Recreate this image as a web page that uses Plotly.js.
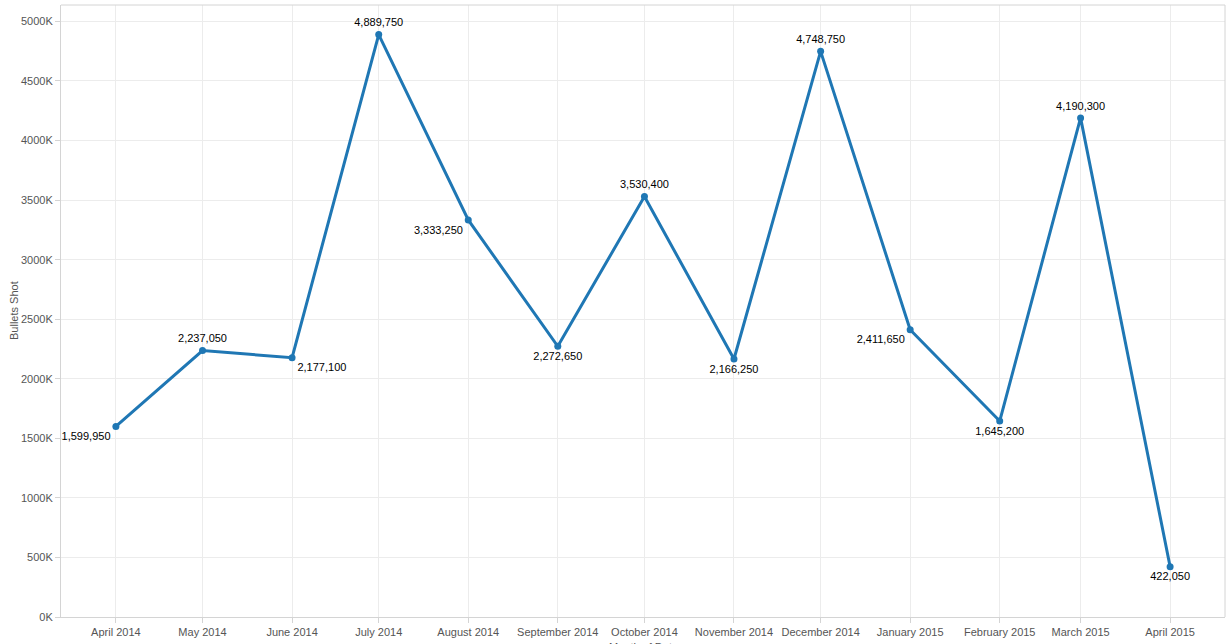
<!DOCTYPE html>
<html>
<head>
<meta charset="utf-8">
<script src="https://cdn.plot.ly/plotly-3.0.1.min.js"></script>
<style>
html,body{margin:0;padding:0;background:#fff;}
#chart{width:1230px;height:644px;}
</style>
</head>
<body>
<div id="chart"></div>
<script>
const months = ['2014-04-01','2014-05-01','2014-06-01','2014-07-01','2014-08-01','2014-09-01','2014-10-01','2014-11-01','2014-12-01','2015-01-01','2015-02-01','2015-03-01','2015-04-01'];
const monthLabels = ['April 2014','May 2014','June 2014','July 2014','August 2014','September 2014','October 2014','November 2014','December 2014','January 2015','February 2015','March 2015','April 2015'];
const bulletsShot = [1599950,2237050,2177100,4889750,3333250,2272650,3530400,2166250,4748750,2411650,1645200,4190300,422050];
const labelPositions = ['bottom left','top center','bottom right','top center','bottom left','bottom center','top center','bottom center','top center','bottom left','bottom center','top center','bottom center'];
const yTickVals = [0,500000,1000000,1500000,2000000,2500000,3000000,3500000,4000000,4500000,5000000];
const yTickText = ['0K','500K','1000K','1500K','2000K','2500K','3000K','3500K','4000K','4500K','5000K'];
const xTitle = 'Month of Date';
const yTitle = 'Bullets Shot';

const trace = {
  x: months,
  y: bulletsShot,
  type: 'scatter',
  mode: 'lines+markers+text',
  line: {color: '#1f77b4', width: 3},
  marker: {color: '#1f77b4', size: 7},
  text: bulletsShot.map(v => v.toLocaleString('en-US')),
  textposition: labelPositions,
  textfont: {family: 'Arial, Liberation Sans, sans-serif', size: 11, color: '#000'},
  cliponaxis: false,
  hoverinfo: 'x+y'
};

const layout = {
  width: 1230,
  height: 644,
  margin: {l: 61, r: 5, t: 5, b: 27},
  paper_bgcolor: '#fff',
  plot_bgcolor: '#fff',
  showlegend: false,
  font: {family: 'Arial, Liberation Sans, sans-serif', size: 11, color: '#555'},
  xaxis: {
    type: 'date',
    range: ['2014-03-13', '2015-04-20'],
    tickvals: months,
    ticktext: monthLabels,
    tickfont: {size: 11, color: '#555'},
    ticks: 'outside',
    ticklen: 5,
    tickcolor: '#d4d4d4',
    showgrid: true,
    gridcolor: '#ececec',
    gridwidth: 1,
    showline: true,
    linecolor: '#d4d4d4',
    linewidth: 1,
    zeroline: false,
    automargin: false
  },
  yaxis: {
    range: [0, 5138000],
    tickvals: yTickVals,
    ticktext: yTickText,
    tickfont: {size: 11, color: '#555'},
    ticks: 'outside',
    ticklen: 5,
    tickcolor: '#d4d4d4',
    showgrid: true,
    gridcolor: '#ececec',
    gridwidth: 1,
    showline: true,
    linecolor: '#d4d4d4',
    linewidth: 1,
    zeroline: false,
    automargin: false
  },
  annotations: [
    {text: xTitle, xref: 'paper', yref: 'paper', x: 0.5, y: 0, xanchor: 'center', yanchor: 'top', yshift: -22, showarrow: false, font: {size: 11, color: '#555'}},
    {text: yTitle, xref: 'paper', yref: 'paper', x: 0, y: 0.5, xanchor: 'center', yanchor: 'middle', xshift: -47, textangle: -90, showarrow: false, font: {size: 11, color: '#555'}}
  ],
  shapes: [
    {type: 'line', xref: 'paper', yref: 'paper', x0: 0, x1: 1, y0: 1, y1: 1, line: {color: '#d4d4d4', width: 1}},
    {type: 'line', xref: 'paper', yref: 'paper', x0: 1, x1: 1, y0: 0, y1: 1, line: {color: '#d4d4d4', width: 1}}
  ]
};

Plotly.newPlot('chart', [trace], layout, {displayModeBar: false, staticPlot: true});
</script>
</body>
</html>
